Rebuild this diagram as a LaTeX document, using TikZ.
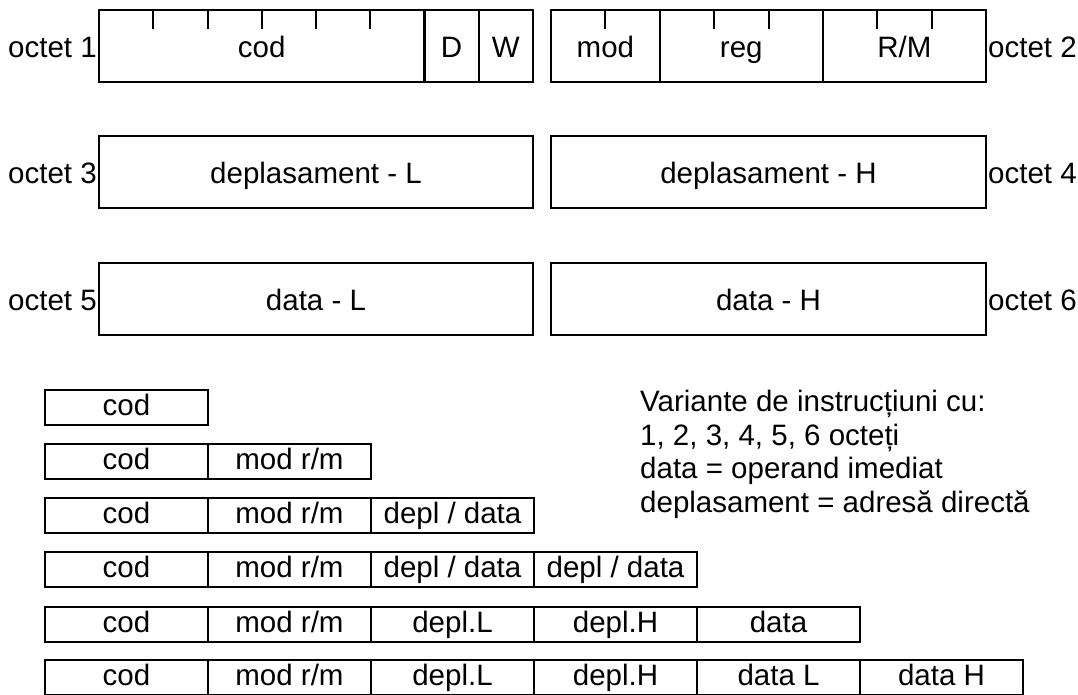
\documentclass[tikz,border=0pt]{standalone}
\usepackage{fontspec}
\setmainfont{Liberation Sans}
\begin{document}
\begin{tikzpicture}[
x=1pt,y=-1pt,
every node/.style={font=\fontsize{29.5}{33.5}\selectfont},
field/.style={
rectangle,draw,line width=2pt,
inner sep=0pt,
text height=22pt,text depth=0pt,
minimum height=72pt
},
cell/.style={
rectangle,draw,line width=2pt,
inner sep=0pt,
text height=16pt,text depth=0pt,
minimum width=163pt,
minimum height=35pt
},
octetlabel/.style={inner sep=1pt,text height=22pt,text depth=0pt},
bittick/.style={line width=2pt}
]
\useasboundingbox (0,0) rectangle (1078,694);

% =======================
% OCTET 1 / OCTET 2
% =======================

\node[field,minimum width=325.5pt] (cod) at (261.75,46) {cod};
\node[field,minimum width=54.25pt] (d) at (451.6,46) {D};
\node[field,minimum width=54.25pt] (w) at (505.9,46) {W};

\node[field,minimum width=108.75pt] (mod) at (605.4,46) {mod};
\node[field,minimum width=163.1pt] (reg) at (741.3,46) {reg};
\node[field,minimum width=163.1pt] (rm) at (904.4,46) {R/M};

\foreach \x in {153.25,207.5,261.75,316,370.25,605.4,714.1,768.5,877.3,931.6}
\draw[bittick] (\x,10) -- (\x,29);

\node[octetlabel,anchor=east] (oct1) at (cod.west) {octet 1};
\node[octetlabel,anchor=west] (oct2) at (rm.east) {octet 2};

% =======================
% OCTET 3 .. OCTET 6
% =======================

\node[field,minimum width=434pt] (deplL) at (316,172) {deplasament - L};
\node[field,minimum width=435pt] (deplH) at (768.5,172) {deplasament - H};

\node[field,minimum width=434pt] (dataL) at (316,299) {data - L};
\node[field,minimum width=435pt] (dataH) at (768.5,299) {data - H};

\node[octetlabel,anchor=east] (oct3) at (deplL.west) {octet 3};
\node[octetlabel,anchor=west] (oct4) at (deplH.east) {octet 4};
\node[octetlabel,anchor=east] (oct5) at (dataL.west) {octet 5};
\node[octetlabel,anchor=west] (oct6) at (dataH.east) {octet 6};

% =======================
% VARIANTE (1..6 OCTETI)
% =======================

\node[cell] (v1a) at (126.5,407) {cod};

\node[cell] (v2a) at (126.5,461) {cod};
\node[cell] (v2b) at (289.5,461) {mod r/m};

\node[cell] (v3a) at (126.5,515) {cod};
\node[cell] (v3b) at (289.5,515) {mod r/m};
\node[cell] (v3c) at (452.5,515) {depl / data};

\node[cell] (v4a) at (126.5,569.5) {cod};
\node[cell] (v4b) at (289.5,569.5) {mod r/m};
\node[cell] (v4c) at (452.5,569.5) {depl / data};
\node[cell] (v4d) at (615.5,569.5) {depl / data};

\node[cell] (v5a) at (126.5,624) {cod};
\node[cell] (v5b) at (289.5,624) {mod r/m};
\node[cell] (v5c) at (452.5,624) {depl.L};
\node[cell] (v5d) at (615.5,624) {depl.H};
\node[cell] (v5e) at (778.5,624) {data};

\node[cell] (v6a) at (126.5,677.5) {cod};
\node[cell] (v6b) at (289.5,677.5) {mod r/m};
\node[cell] (v6c) at (452.5,677.5) {depl.L};
\node[cell] (v6d) at (615.5,677.5) {depl.H};
\node[cell] (v6e) at (778.5,677.5) {data L};
\node[cell] (v6f) at (941.5,677.5) {data H};

% =======================
% NOTE
% =======================

\node[align=left,anchor=north west,inner sep=0pt] (note) at (640,390)
{Variante de instrucțiuni cu:\\
1, 2, 3, 4, 5, 6 octeți\\
data = operand imediat\\
deplasament = adresă directă};

\end{tikzpicture}
\end{document}
